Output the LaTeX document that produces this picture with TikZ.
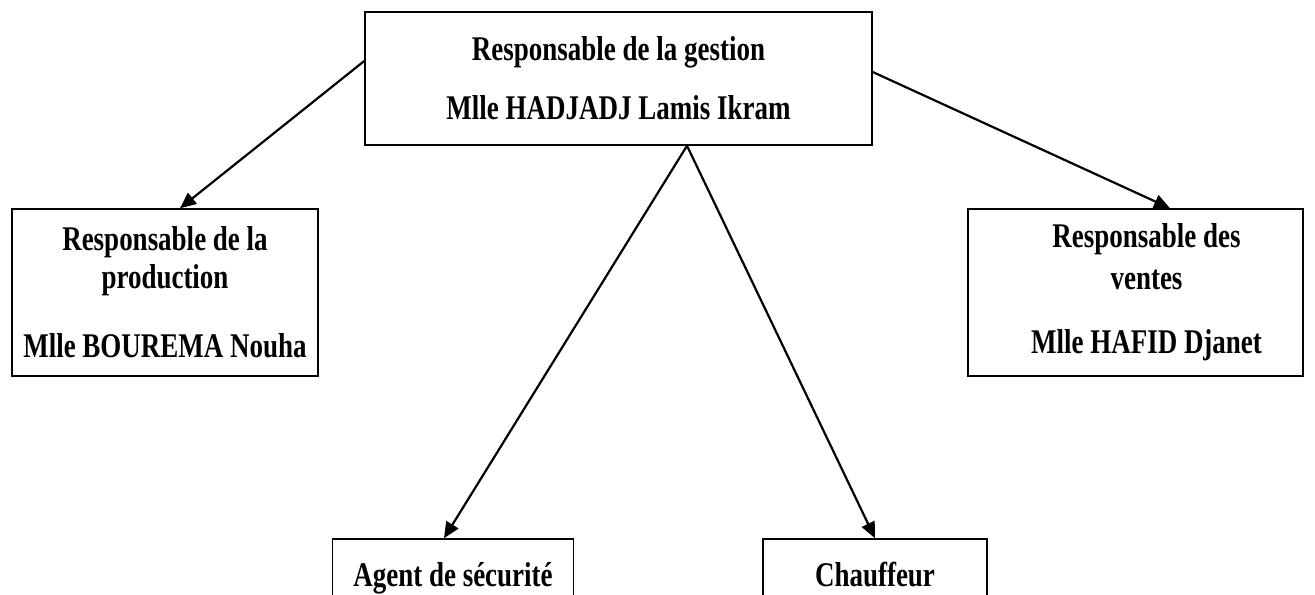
\documentclass[tikz,border=0pt]{standalone}
\usepackage{fontspec}
\setmainfont[FakeStretch=0.78]{Liberation Serif}
\usepackage{tikz}
\usetikzlibrary{arrows.meta,positioning}

\begin{document}
\begin{tikzpicture}[% one unit is one pixel of the original chart
			x=0.5pt,y=-0.5pt,
			every node/.style={
				align=center,  		% so that "\\" breaks the line
				font=\bfseries\fontsize{17.3}{19}\selectfont,
				inner sep=0pt
			},
			posbox/.style={rectangle,draw=black,line width=0.75pt,fill=white},
			lowbox/.style={posbox,text height=13pt,text depth=5pt,minimum height=39pt},
			every edge/.style={draw,line width=1.1pt,-{Triangle[length=8pt,width=7pt]}}
		]
		\useasboundingbox (0,0) rectangle (1315,594);
		\node[posbox,minimum width=253.5pt,minimum height=66.5pt](gestion) at (618.5,78.5){Responsable de la gestion\\[10.5pt]Mlle HADJADJ Lamis Ikram};
		\node[posbox,minimum width=153pt,minimum height=83.5pt](production) at (165,292.5){Responsable de la\\production\\[15.5pt]Mlle BOUREMA Nouha};
		\node[posbox,minimum width=167.5pt,minimum height=83.5pt](ventes) at (1135.5,292.5){\hspace*{11pt}Responsable des\\[2pt]\hspace*{11pt}ventes\\[13pt]\hspace*{11pt}Mlle HAFID Djanet};
		\node[lowbox,minimum width=120.5pt](securite) at (453,578){Agent de sécurité};
		\node[lowbox,minimum width=112pt](chauffeur) at (875,578){Chauffeur};
		\path
		([yshift=8.75pt]gestion.west)edge []	node [] {} ([xshift=7.5pt]production.north)
		([yshift=3.25pt]gestion.east)edge []	node [] {} ([xshift=17.25pt]ventes.north)
		([xshift=34.25pt]gestion.south)edge []	node [] {} ([xshift=-4.5pt]securite.north)
		([xshift=34.25pt]gestion.south)edge []	node [] {} (chauffeur.north)
		;
	\end{tikzpicture}
\end{document}
